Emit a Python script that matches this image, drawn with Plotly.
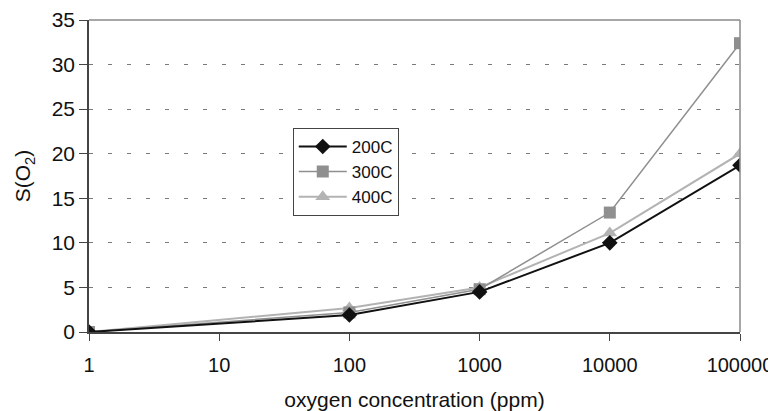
import plotly.graph_objects as go

conc = [1, 100, 1000, 10000, 100000]
s_200 = [0, 1.9, 4.5, 10.0, 18.7]
s_300 = [0, 2.2, 4.8, 13.4, 32.4]
s_400 = [0, 2.7, 5.0, 11.1, 20.0]
x_ticks = [1, 10, 100, 1000, 10000, 100000]
x_tick_labels = ["1", "10", "100", "1000", "10000", "100000"]

FONT = "Liberation Sans, Arial, sans-serif"

fig = go.Figure()
fig.add_trace(go.Scatter(x=conc, y=s_400, name="400C", mode="lines+markers",
                         line=dict(color="#b3b3b3", width=2),
                         marker=dict(symbol="triangle-up", size=13, color="#b3b3b3")))
fig.add_trace(go.Scatter(x=conc, y=s_300, name="300C", mode="lines+markers",
                         line=dict(color="#8f8f8f", width=1.5),
                         marker=dict(symbol="square", size=12, color="#8f8f8f")))
fig.add_trace(go.Scatter(x=conc, y=s_200, name="200C", mode="lines+markers",
                         line=dict(color="#111111", width=2),
                         marker=dict(symbol="diamond", size=12, color="#111111")))

# page body has an 8px default margin, so the figure is sized 8px smaller
fig.update_layout(
    width=768, height=403,
    margin=dict(l=81, r=36, t=12, b=79),
    paper_bgcolor="white", plot_bgcolor="white",
    font=dict(family=FONT, size=21, color="#111"),
    showlegend=True,
    legend=dict(x=0.313, y=0.654, xanchor="left", yanchor="top",
                bordercolor="#444", borderwidth=1, bgcolor="white",
                font=dict(size=17), traceorder="reversed",
                itemwidth=48, tracegroupgap=0),
    xaxis=dict(type="log", range=[0, 5], tickvals=x_ticks, ticktext=x_tick_labels,
               showgrid=False, showline=True, linecolor="#444", linewidth=1.5,
               ticks="outside", ticklen=7, tickcolor="#444", zeroline=False,
               automargin=False, tickfont=dict(size=20), ticklabelstandoff=7,
               title=dict(text="oxygen concentration (ppm)", standoff=20,
                          font=dict(size=21))),
    yaxis=dict(range=[0, 35], dtick=5, showgrid=True, gridcolor="#7a7a7a",
               griddash="4px,15px", gridwidth=1,
               showline=True, linecolor="#444", linewidth=1.5,
               ticks="outside", ticklen=8, tickcolor="#444", zeroline=False,
               automargin=False, tickfont=dict(size=21),
               title=dict(text="S(O<sub>2</sub>)", standoff=15, font=dict(size=21))),
    shapes=[
        dict(type="line", xref="paper", yref="paper", x0=0, x1=1, y0=1, y1=1,
             line=dict(color="#8a8a8a", width=1.5)),
        dict(type="line", xref="paper", yref="paper", x0=1, x1=1, y0=0, y1=1,
             line=dict(color="#8a8a8a", width=1.5)),
    ],
)

fig.write_html("out.html",
               post_script="document.body.style.overflow='hidden';"
                           "document.documentElement.style.overflow='hidden';")
